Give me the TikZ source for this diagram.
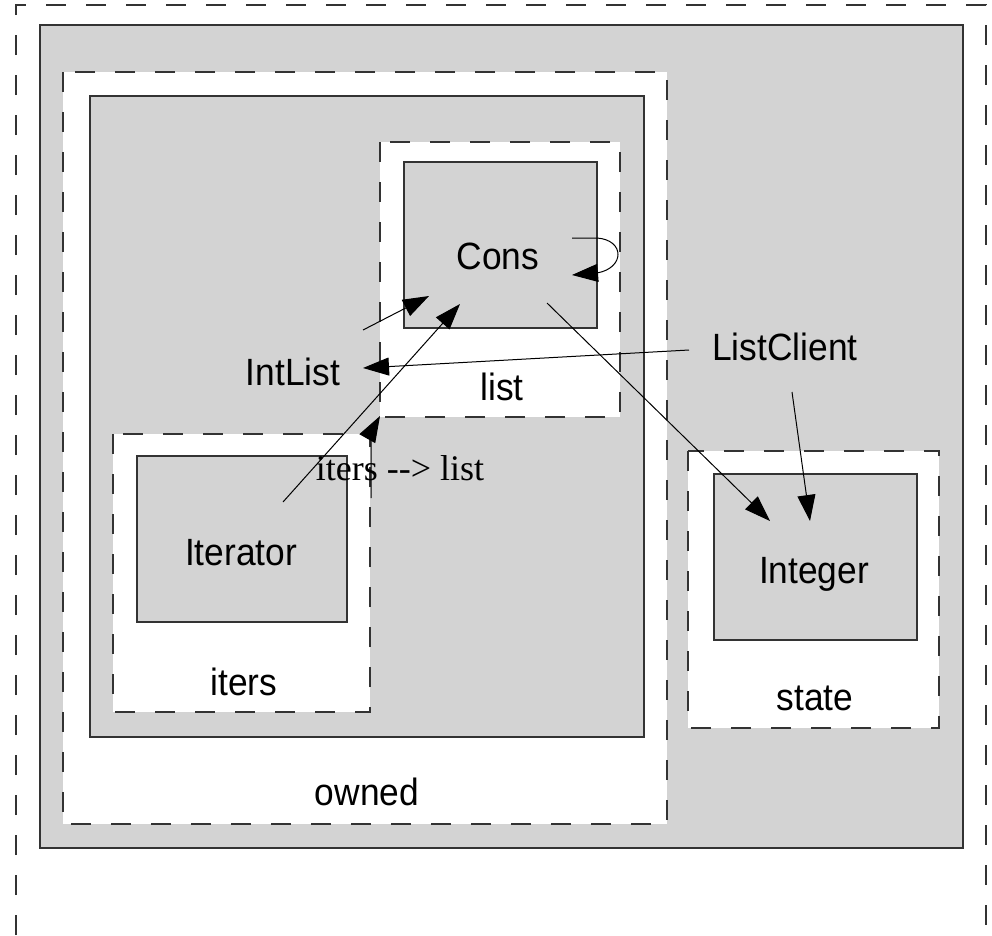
\documentclass[tikz,border=0pt]{standalone}
\usepackage{fontspec}
\setmainfont{Liberation Sans}[FakeStretch=0.93]
\newfontfamily\edgefont{Liberation Serif}
\usepackage{xcolor}
\usepackage{tikz}
\usetikzlibrary{arrows.meta}
\definecolor{boxgray}{HTML}{D3D3D3}
\definecolor{linegray}{HTML}{333333}

\begin{document}
\begin{tikzpicture}[x=1pt,y=-1pt,
  grp/.style={draw=linegray,line width=2pt,dash pattern=on 20pt off 20pt,fill=white},
  cls/.style={draw=linegray,line width=2pt,fill=boxgray},
  lbl/.style={anchor=base,inner sep=0pt,font=\fontsize{38}{40}\selectfont},
  arr/.style={line width=1pt,-{Triangle[length=26pt,width=18pt]}}]
\useasboundingbox(0,0)rectangle(992,935);
% nested groups
\draw[grp,fill=none](16,935)--(16,5)--(986,5)--(986,935);
\draw[cls](40,25)rectangle(963,848);
\draw[grp](63,72)rectangle(667,824);
\draw[cls](90,96)rectangle(644,737);
\draw[grp](380,142)rectangle(620,417);
\draw[cls](404,162)rectangle(597,328);
\draw[grp](113,434)rectangle(370,712);
\draw[cls](137,456)rectangle(347,622);
\draw[grp](688,451)rectangle(939,728);
\draw[cls](714,474)rectangle(917,640);
% labels
\node[lbl](cons)at(498,269){Cons};
\node[lbl](listlbl)at(502,400){list};
\node[lbl](intlist)at(293,385){IntList};
\node[lbl](listclient)at(785,360){ListClient};
\node[lbl](iterator)at(241,565){Iterator};
\node[lbl](iterslbl)at(244,695){iters};
\node[lbl](integer)at(814,583){Integer};
\node[lbl](statelbl)at(815,710){state};
\node[lbl](ownedlbl)at(367,805){owned};
\node[anchor=base,inner sep=0pt,font=\edgefont\fontsize{36}{40}\selectfont](iterslist)at(400,480){iters -{}-> list};
% connector ends
\coordinate(cons-self-out)at(572,238);
\coordinate(cons-self-in)at(572,275);
\coordinate(cons-out)at(547,303);
\coordinate(cons-in-a)at(429,296);
\coordinate(cons-in-b)at(460,304);
\coordinate(intlist-out)at(363,330);
\coordinate(intlist-in)at(363,368);
\coordinate(iterator-out)at(283,502);
\coordinate(client-out-a)at(689,350);
\coordinate(client-out-b)at(792,392);
\coordinate(integer-in-a)at(770,521);
\coordinate(integer-in-b)at(810,521);
\coordinate(iters-out)at(371,498);
\coordinate(list-in)at(380,416);
% connectors
\draw[arr](cons-self-out)--++(25,0)..controls(625,240)and(625,268)..(597,273)--(cons-self-in);
\draw[arr](intlist-out)--(cons-in-a);
\draw[arr](iterator-out)--(cons-in-b);
\draw[arr](client-out-a)--(intlist-in);
\draw[arr](cons-out)--(integer-in-a);
\draw[arr](client-out-b)--(integer-in-b);
\draw[arr](iters-out)--++(0,-58)..controls(371,432)..(list-in);
\end{tikzpicture}
\end{document}
